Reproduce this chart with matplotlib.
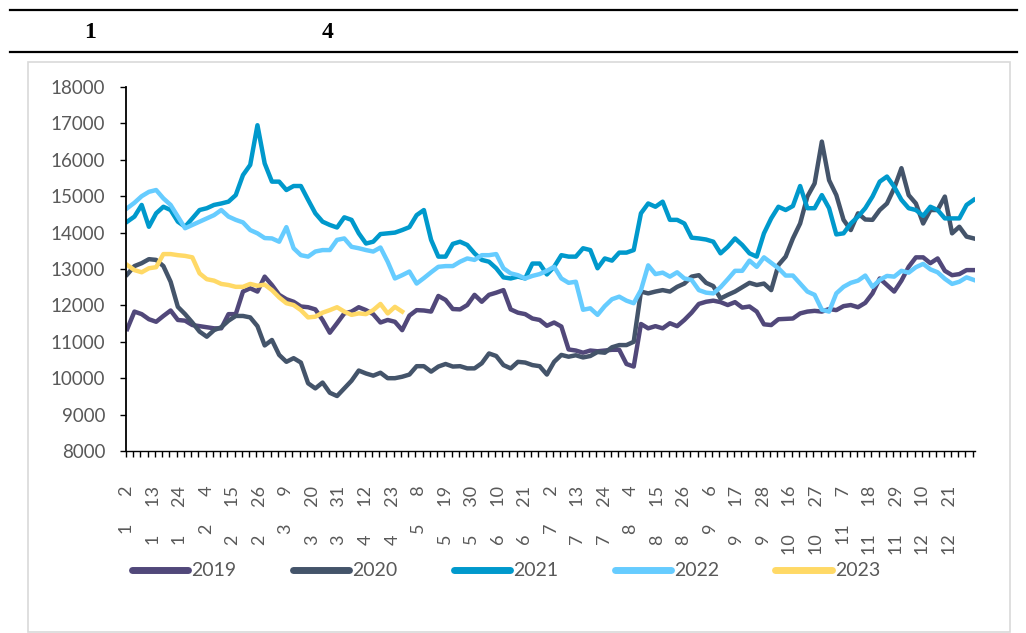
import numpy as np
import matplotlib
matplotlib.use('Agg')
from matplotlib import pyplot as plt
from matplotlib.lines import Line2D
from matplotlib.patches import Rectangle

# category axis: trading dates, one label every 11 days
n_days = 352
tick_month = [1, 1, 1, 2, 2, 2, 3, 3, 3, 4, 4, 5, 5, 5, 6, 6,
              7, 7, 7, 8, 8, 8, 9, 9, 9, 10, 10, 11, 11, 11, 12, 12]
tick_day = [2, 13, 24, 4, 15, 26, 9, 20, 31, 12, 23, 8, 19, 30, 10, 21,
            2, 13, 24, 4, 15, 26, 6, 17, 28, 16, 27, 7, 18, 29, 10, 21]

years = ['2019', '2020', '2021', '2022', '2023']
colors = ['#51487a', '#44546a', '#0099cc', '#66ccff', '#ffd966']

# values read every 3rd day
v2019 = [11350, 11830, 11760, 11620, 11550, 11710, 11860, 11600, 11580, 11460,
         11430, 11400, 11370, 11370, 11760, 11760, 12380, 12470, 12380, 12790,
         12560, 12290, 12170, 12100, 11970, 11950, 11890, 11600, 11250, 11510,
         11780, 11830, 11950, 11870, 11760, 11530, 11600, 11550, 11320, 11720,
         11870, 11860, 11830, 12260, 12150, 11900, 11890, 12010, 12290, 12100,
         12290, 12350, 12420, 11890, 11800, 11760, 11640, 11600, 11440, 11530,
         11420, 10790, 10760, 10700, 10760, 10740, 10760, 10780, 10780, 10390,
         10320, 11490, 11370, 11430, 11370, 11510, 11430, 11600, 11800, 12040,
         12100, 12130, 12090, 12010, 12090, 11940, 11970, 11830, 11480, 11460,
         11620, 11630, 11640, 11780, 11830, 11850, 11830, 11900, 11870, 11980,
         12010, 11950, 12070, 12330, 12740, 12560, 12380, 12680, 13060, 13320,
         13320, 13160, 13290, 12950, 12830, 12860, 12970, 12970]
v2020 = [12850, 13080, 13160, 13270, 13250, 13080, 12650, 11960, 11760, 11530,
         11280, 11140, 11320, 11400, 11580, 11710, 11710, 11670, 11430, 10900,
         11050, 10640, 10450, 10550, 10430, 9860, 9720, 9880, 9600, 9510,
         9720, 9930, 10210, 10130, 10070, 10150, 10000, 10000, 10040, 10100,
         10330, 10330, 10180, 10320, 10390, 10320, 10330, 10270, 10270, 10410,
         10680, 10610, 10360, 10270, 10450, 10430, 10360, 10330, 10100, 10450,
         10640, 10590, 10630, 10570, 10610, 10720, 10700, 10850, 10910, 10910,
         11000, 12380, 12330, 12380, 12420, 12380, 12510, 12600, 12790, 12830,
         12620, 12530, 12190, 12290, 12380, 12500, 12620, 12560, 12600, 12420,
         13110, 13340, 13840, 14250, 14990, 15350, 16500, 15440, 15030, 14350,
         14070, 14530, 14360, 14350, 14620, 14800, 15220, 15770, 15030, 14800,
         14250, 14620, 14620, 14990, 13980, 14160, 13890, 13840]
v2021 = [14300, 14440, 14760, 14160, 14530, 14710, 14620, 14300, 14160, 14390,
         14620, 14670, 14760, 14800, 14850, 15030, 15580, 15860, 16950, 15900,
         15400, 15400, 15170, 15280, 15280, 14900, 14530, 14300, 14210, 14140,
         14420, 14350, 13980, 13700, 13750, 13960, 13980, 14000, 14070, 14150,
         14480, 14620, 13800, 13340, 13340, 13690, 13750, 13660, 13430, 13250,
         13200, 13020, 12770, 12740, 12790, 12740, 13150, 13150, 12850, 13060,
         13380, 13340, 13340, 13570, 13520, 13020, 13290, 13230, 13450, 13450,
         13520, 14530, 14800, 14710, 14850, 14350, 14350, 14250, 13860, 13840,
         13810, 13750, 13430, 13610, 13840, 13660, 13430, 13340, 13980, 14390,
         14710, 14620, 14730, 15280, 14670, 14670, 15030, 14670, 13950, 13980,
         14250, 14440, 14670, 14990, 15400, 15540, 15260, 14900, 14670, 14620,
         14460, 14710, 14620, 14390, 14390, 14390, 14760, 14900]
v2022 = [14670, 14820, 15000, 15120, 15170, 14940, 14760, 14440, 14120, 14210,
         14300, 14390, 14480, 14620, 14440, 14350, 14280, 14070, 13980, 13850,
         13840, 13750, 14150, 13570, 13380, 13340, 13480, 13520, 13520, 13800,
         13840, 13610, 13570, 13520, 13480, 13590, 13200, 12740, 12830, 12930,
         12600, 12750, 12910, 13060, 13080, 13080, 13200, 13290, 13250, 13380,
         13380, 13410, 13020, 12880, 12830, 12740, 12810, 12860, 12950, 13060,
         12740, 12620, 12650, 11880, 11920, 11740, 11980, 12170, 12240, 12130,
         12060, 12420, 13100, 12860, 12900, 12790, 12910, 12740, 12700, 12420,
         12350, 12330, 12500, 12720, 12950, 12950, 13230, 13060, 13320, 13170,
         13020, 12820, 12820, 12600, 12380, 12290, 11880, 11830, 12330, 12510,
         12620, 12680, 12820, 12510, 12700, 12810, 12790, 12950, 12900, 13050,
         13140, 12990, 12910, 12730, 12590, 12650, 12770, 12700]
v2023 = [13110, 12970, 12910, 13020, 13050, 13410, 13410, 13380, 13360, 13320,
         12880, 12720, 12680, 12590, 12560, 12510, 12510, 12590, 12540, 12570,
         12420, 12220, 12060, 12010, 11870, 11670, 11690, 11800, 11870, 11950,
         11830, 11740, 11780, 11760, 11870, 12040, 11780, 11960, 11830]
series = [v2019, v2020, v2021, v2022, v2023]

W, H = 1026, 633
fig = plt.figure(figsize=(W / 100, H / 100), dpi=100)
txt = '#595959'
font = ['Lato', 'DejaVu Sans']

# header
fig.add_artist(Line2D([10 / W, 1017 / W], [1 - 10 / H] * 2, color='black', lw=1.6))
fig.add_artist(Line2D([10 / W, 1017 / W], [1 - 52 / H] * 2, color='black', lw=1.6))
fig.text(90 / W, 1 - 32 / H, '1', family='Liberation Serif', weight='bold',
         fontsize=17, ha='center', va='center')
fig.text(328 / W, 1 - 32 / H, '4', family='Liberation Serif', weight='bold',
         fontsize=17, ha='center', va='center')
fig.add_artist(Rectangle((28 / W, 1 / H), 982 / W, (632 - 62) / H, fill=False,
                         edgecolor='#d9d9d9', lw=1.2))

ax = fig.add_axes([126 / W, 1 - 451 / H, (975 - 126) / W, (451 - 87) / H])
for name, vals, c in zip(years, series, colors):
    x = np.arange(len(vals)) * 3
    ax.plot(x, vals, color=c, lw=3.2, label=name, solid_joinstyle='round')

ax.set_xlim(-0.5, n_days - 0.5)
ax.set_ylim(8000, 18000)
ax.set_yticks(np.arange(8000, 18001, 1000))
ax.tick_params(axis='y', direction='out', length=4, width=1, color='black',
               pad=11, labelsize=13.5, labelcolor=txt)
for lab in ax.get_yticklabels():
    lab.set_family(font)

pos = [i * 11 for i in range(len(tick_day))]
labels = ['%d      %d' % (m, d) for m, d in zip(tick_month, tick_day)]
ax.set_xticks(pos)
ax.set_xticklabels(labels, rotation=90, family=font, fontsize=13, color=txt)
ax.tick_params(axis='x', which='major', length=0, pad=25)
ax.set_xticks(np.arange(-0.5, n_days, 3), minor=True)
ax.tick_params(axis='x', which='minor', direction='out', length=4, width=1, color='black')

for s in ['top', 'right']:
    ax.spines[s].set_visible(False)
ax.spines['left'].set_linewidth(1.3)
ax.spines['bottom'].set_linewidth(1.0)

leg = fig.legend(loc='center', ncol=5, bbox_to_anchor=(506 / W, 1 - 571 / H),
                 frameon=False, handlelength=2.9, handletextpad=0.15,
                 columnspacing=2.9, prop={'family': font, 'size': 14})
for h in leg.get_lines():
    h.set_linewidth(5)
    h.set_solid_capstyle('round')
for t in leg.get_texts():
    t.set_color(txt)

fig.savefig('out.png', dpi=100)
